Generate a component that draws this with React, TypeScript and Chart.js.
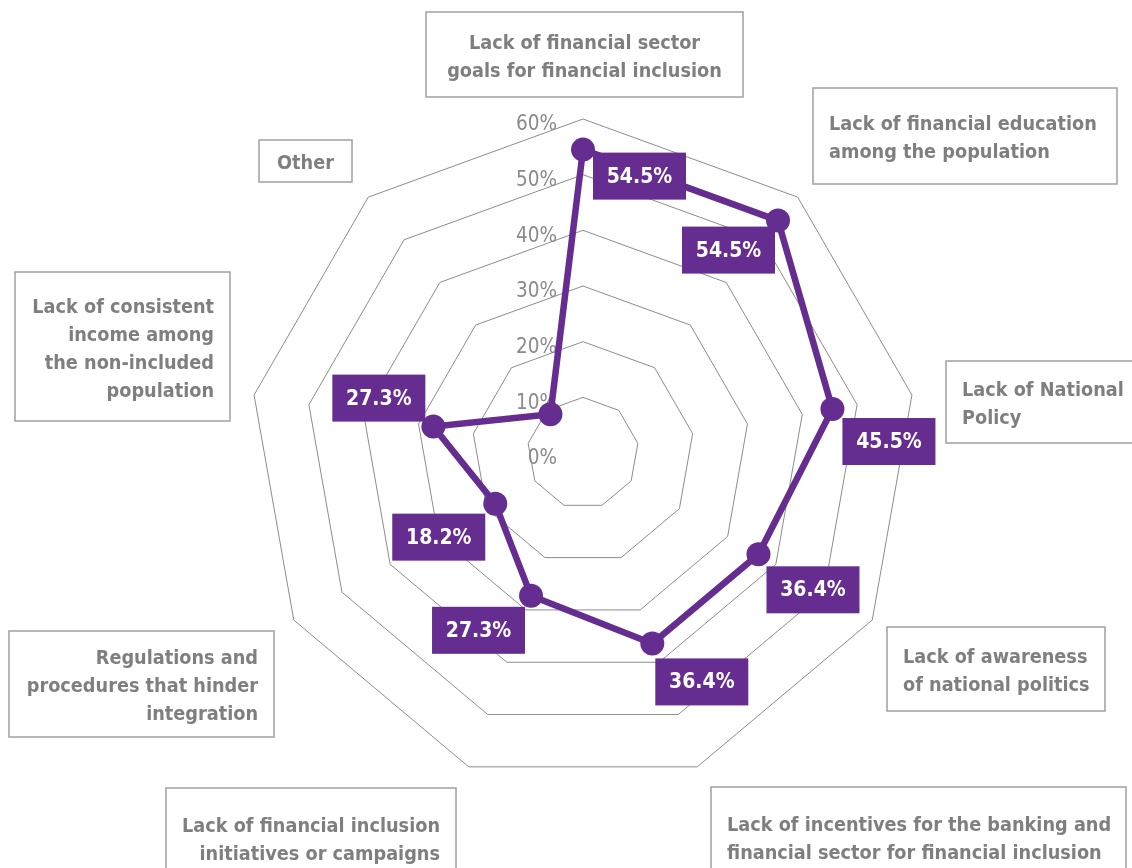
import React, { useEffect, useRef } from "react";
import { Chart, registerables } from "chart.js";

Chart.register(...registerables);

const categories: string[][] = [
  ["Lack of financial sector", "goals for financial inclusion"],
  ["Lack of financial education", "among the population"],
  ["Lack of National", "Policy"],
  ["Lack of awareness", "of national politics"],
  ["Lack of incentives for the banking and", "financial sector for financial inclusion"],
  ["Lack of financial inclusion", "initiatives or campaigns"],
  ["Regulations and", "procedures that hinder", "integration"],
  ["Lack of consistent", "income among", "the non-included", "population"],
  ["Other"],
];

const values: number[] = [54.5, 54.5, 45.5, 36.4, 36.4, 27.3, 18.2, 27.3, 9.1];
const showValueLabel: boolean[] = [true, true, true, true, true, true, true, true, false];

const tickValues: number[] = [0, 10, 20, 30, 40, 50, 60];

// layout of the value label boxes relative to their points (left/top offsets)
const valueLabelOffsets: [number, number][] = [
  [10, 3],
  [-96, 6],
  [10, 9],
  [8, 12],
  [3, 15],
  [-99, 11],
  [-103, 10],
  [-101, -52],
  [8, 8],
];

// layout of the category label boxes
const categoryBoxes: { x: number; y: number; w: number; h: number; align: CanvasTextAlign }[] = [
  { x: 426, y: 12, w: 317, h: 85, align: "center" },
  { x: 813, y: 88, w: 304, h: 96, align: "left" },
  { x: 946, y: 361, w: 220, h: 82, align: "left" },
  { x: 887, y: 627, w: 218, h: 84, align: "left" },
  { x: 711, y: 787, w: 415, h: 100, align: "left" },
  { x: 166, y: 788, w: 290, h: 100, align: "right" },
  { x: 9, y: 631, w: 265, h: 106, align: "right" },
  { x: 15, y: 272, w: 215, h: 149, align: "right" },
  { x: 259, y: 140, w: 93, h: 42, align: "center" },
];

const PURPLE = "#662d91";
const TEXT_GRAY = "#7f7f7f";
const BOX_GRAY = "#a0a0a0";
const GRID_GRAY = "#8c8c8c";

const overlayPlugin = {
  id: "overlay",
  beforeDatasetsDraw(chart: any) {
    const ctx = chart.ctx as CanvasRenderingContext2D;
    const scale = chart.scales.r;
    ctx.save();
    ctx.font = '20.5px "DejaVu Sans Condensed", "DejaVu Sans", sans-serif';
    ctx.fillStyle = "#8a8a8a";
    ctx.textAlign = "right";
    ctx.textBaseline = "middle";
    tickValues.forEach((v) => {
      const d = scale.getDistanceFromCenterForValue(v);
      ctx.fillText(v + "%", scale.xCenter - 26, scale.yCenter - d + 6);
    });
    ctx.restore();
  },
  afterDatasetsDraw(chart: any) {
    const ctx = chart.ctx as CanvasRenderingContext2D;
    const meta = chart.getDatasetMeta(0);
    ctx.save();
    // value labels
    ctx.font = 'bold 21px "DejaVu Sans Condensed", "DejaVu Sans", sans-serif';
    ctx.textAlign = "center";
    ctx.textBaseline = "middle";
    meta.data.forEach((pt: any, i: number) => {
      if (!showValueLabel[i]) return;
      const [dx, dy] = valueLabelOffsets[i];
      const bx = pt.x + dx;
      const by = pt.y + dy;
      const bw = 93;
      const bh = 47;
      ctx.fillStyle = PURPLE;
      ctx.fillRect(bx, by, bw, bh);
      ctx.fillStyle = "#ffffff";
      ctx.fillText(values[i].toFixed(1) + "%", bx + bw / 2, by + bh / 2 + 1);
    });
    // category labels
    ctx.font = 'bold 19.7px "DejaVu Sans Condensed", "DejaVu Sans", sans-serif';
    categories.forEach((lines, i) => {
      const b = categoryBoxes[i];
      ctx.strokeStyle = BOX_GRAY;
      ctx.lineWidth = 1.5;
      ctx.strokeRect(b.x, b.y, b.w, b.h);
      ctx.fillStyle = TEXT_GRAY;
      ctx.textAlign = b.align;
      ctx.textBaseline = "middle";
      const tx = b.align === "left" ? b.x + 16 : b.align === "right" ? b.x + b.w - 16 : b.x + b.w / 2;
      const lh = 28;
      const startY = b.y + b.h / 2 - ((lines.length - 1) * lh) / 2 + 3;
      lines.forEach((ln, j) => ctx.fillText(ln, tx, startY + j * lh));
    });
    ctx.restore();
  },
};

export default function App() {
  const ref = useRef<HTMLCanvasElement>(null);
  useEffect(() => {
    if (!ref.current) return;
    const chart = new Chart(ref.current, {
      type: "radar",
      data: {
        labels: categories,
        datasets: [
          {
            data: values,
            borderColor: PURPLE,
            backgroundColor: PURPLE,
            borderWidth: 6.5,
            fill: false,
            pointRadius: 12,
            pointBorderWidth: 0,
            pointBackgroundColor: PURPLE,
            tension: 0,
          },
        ],
      },
      options: {
        responsive: false,
        animation: false,
        devicePixelRatio: 1,
        layout: { padding: { left: 248.5, right: 214.5, top: 119, bottom: 80 } },
        plugins: { legend: { display: false }, tooltip: { enabled: false } },
        scales: {
          r: {
            min: 0,
            max: 60,
            ticks: { display: false, stepSize: 10 },
            grid: { color: GRID_GRAY, lineWidth: 1 },
            angleLines: { display: false },
            pointLabels: { display: false },
          },
        },
      },
      plugins: [overlayPlugin],
    });
    return () => chart.destroy();
  }, []);
  return (
    <canvas
      ref={ref}
      width={1132}
      height={868}
      style={{ position: "fixed", left: 0, top: 0, width: 1132, height: 868, background: "#ffffff" }}
    />
  );
}
